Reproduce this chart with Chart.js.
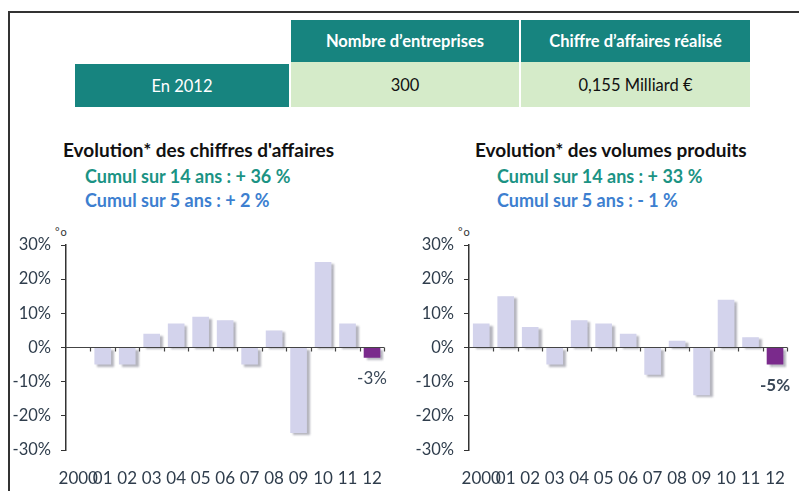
<!DOCTYPE html>
<html><head><meta charset="utf-8">
<script src="https://cdn.jsdelivr.net/npm/chart.js@4/dist/chart.umd.min.js"></script>
<style>
html,body{margin:0;padding:0;background:#fff;width:799px;height:491px;overflow:hidden;font-family:Lato,"Open Sans",sans-serif;}
#frame{position:absolute;left:8px;top:11px;width:800px;height:490px;border-left:2px solid #333;border-top:2px solid #333;}
.cell{position:absolute;display:flex;align-items:center;justify-content:center;font-size:16.5px;}
.teal{background:#17847f;color:#fff;}
.green{background:#d5ebc9;color:#111;}
.title{position:absolute;font-weight:bold;font-size:19px;color:#111;white-space:nowrap;}
.c1{position:absolute;font-weight:bold;font-size:18px;color:#1b9384;white-space:nowrap;}
.c2{position:absolute;font-weight:bold;font-size:18px;color:#3d7fd0;white-space:nowrap;}
.pc{position:absolute;font-size:11px;color:#333;letter-spacing:1px;}
canvas{position:absolute;}
</style></head><body>
<div id="frame"></div>
<div class="cell teal" style="left:291px;top:20px;width:228px;height:42px;font-weight:bold;">Nombre d’entreprises</div>
<div class="cell teal" style="left:521px;top:20px;width:229px;height:42px;font-weight:bold;">Chiffre d’affaires réalisé</div>
<div class="cell teal" style="left:75px;top:64px;width:214px;height:43px;">En 2012</div>
<div class="cell green" style="left:291px;top:62px;width:228px;height:45px;">300</div>
<div class="cell green" style="left:521px;top:62px;width:229px;height:45px;">0,155 Milliard €</div>

<div class="title" style="left:63px;top:138px;">Evolution* des chiffres d'affaires</div>
<div class="c1" style="left:85px;top:165px;">Cumul sur 14 ans : + 36 %</div>
<div class="c2" style="left:85px;top:189px;">Cumul sur 5 ans : + 2 %</div>
<div class="title" style="left:475px;top:138px;">Evolution* des volumes produits</div>
<div class="c1" style="left:497px;top:165px;">Cumul sur 14 ans : + 33 %</div>
<div class="c2" style="left:497px;top:189px;">Cumul sur 5 ans : - 1 %</div>
<div class="pc" style="left:55px;top:225px;">°o</div>
<div class="pc" style="left:458px;top:225px;">°o</div>

<canvas id="c1" width="400" height="266" style="left:0;top:225px;"></canvas>
<canvas id="c2" width="400" height="266" style="left:403px;top:225px;"></canvas>
<script>
const years = ["2000","01","02","03","04","05","06","07","08","09","10","11","12"];
const chiffreAffaires = [0,-5,-5,4,7,9,8,-5,5,-25,25,7,-3];
const volumesProduits = [7,15,6,-5,8,7,4,-8,2,-14,14,3,-5];
const yTicks = [-30,-20,-10,0,10,20,30];
const lastLabelLeft = "-3%";
const lastLabelRight = "-5%";

const barColor = "#d3d3ec";
const lastColor = "#7a2a8c";

function makeChart(id, data, lastLabel, boldLabel){
  const colors = data.map((v,i)=> i===data.length-1 ? lastColor : barColor);
  const shadowPlugin = {
    id:'shadow',
    beforeDatasetDraw(chart){ const c=chart.ctx; c.save(); c.shadowColor='rgba(90,90,110,0.45)'; c.shadowOffsetX=3; c.shadowOffsetY=2; c.shadowBlur=2; },
    afterDatasetDraw(chart){ chart.ctx.restore(); }
  };
  const extras = {
    id:'extras',
    afterDraw(chart){
      const c=chart.ctx, xs=chart.scales.x, ys=chart.scales.y;
      const y0=ys.getPixelForValue(0);
      c.save();
      c.strokeStyle='#444'; c.lineWidth=1.2;
      c.beginPath(); c.moveTo(chart.chartArea.left,y0); c.lineTo(chart.chartArea.right,y0); c.stroke();
      for(let i=1;i<=data.length;i++){
        const x = i<data.length ? (xs.getPixelForValue(i-1)+xs.getPixelForValue(i))/2 : xs.getPixelForValue(i-1)+(xs.getPixelForValue(1)-xs.getPixelForValue(0))/2;
        c.beginPath(); c.moveTo(Math.round(x)+0.5,y0); c.lineTo(Math.round(x)+0.5,y0+4); c.stroke();
      }
      const n=data.length-1;
      c.fillStyle='#3a4858';
      c.font=(boldLabel?'bold ':'')+'17px Lato';
      c.textAlign='center'; c.textBaseline='top';
      c.fillText(lastLabel, xs.getPixelForValue(n), ys.getPixelForValue(data[n])+12);
      c.restore();
    }
  };
  return new Chart(document.getElementById(id),{
    type:'bar',
    data:{labels:years,datasets:[{data:data,backgroundColor:colors,borderWidth:0,categoryPercentage:1,barPercentage:0.68}]},
    options:{
      responsive:false,animation:false,
      layout:{padding:{top:20,right:3,bottom:0,left:0}},
      plugins:{legend:{display:false},tooltip:{enabled:false}},
      scales:{
        x:{grid:{display:false,drawTicks:false},border:{display:false},
           ticks:{color:'#2f3d4c',font:{size:17,family:'Lato'},padding:18,autoSkip:false,maxRotation:0,minRotation:0},
           afterFit(s){s.height=41;}},
        y:{min:-30,max:30,afterBuildTicks(s){s.ticks=yTicks.map(v=>({value:v}));},
           grid:{drawOnChartArea:false,tickLength:5,tickColor:'#333'},
           border:{display:true,color:'#333',width:1.5},
           ticks:{color:'#2f3d4c',font:{size:16.5,family:'Lato'},padding:10,callback:v=>v+'%'},
           afterFit(s){s.width=66;}}
      }
    },
    plugins:[shadowPlugin,extras]
  });
}
makeChart('c1', chiffreAffaires, lastLabelLeft, false);
makeChart('c2', volumesProduits, lastLabelRight, true);
</script>
</body></html>
